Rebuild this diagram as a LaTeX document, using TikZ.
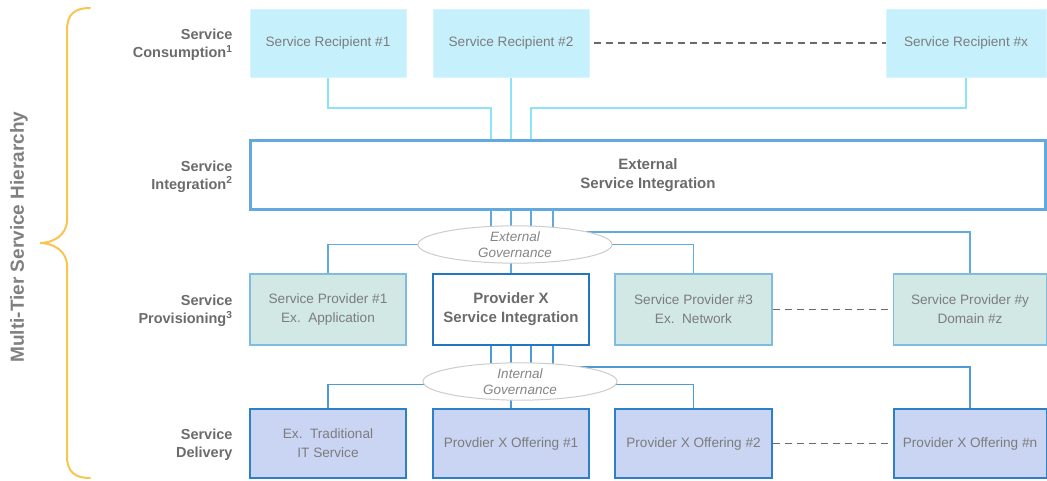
\documentclass[tikz,border=0pt]{standalone}
\usepackage{fontspec}
\setmainfont{Liberation Sans}
\usetikzlibrary{backgrounds,shapes.geometric}
\definecolor{recfill}{HTML}{C6F1FC}
\definecolor{recline}{HTML}{8DE4F8}
\definecolor{extline}{HTML}{62AADD}
\definecolor{provfill}{HTML}{D2E8E5}
\definecolor{provdraw}{HTML}{80BCE0}
\definecolor{pxdraw}{HTML}{2277C0}
\definecolor{delfill}{HTML}{CAD5F3}
\definecolor{deldraw}{HTML}{2D80C8}
\definecolor{intline}{HTML}{4D9AD6}
\definecolor{boxtext}{HTML}{7C7C7C}
\definecolor{labtext}{HTML}{6B6B6B}
\definecolor{bracecol}{HTML}{F9C44F}
\definecolor{dashcol}{HTML}{6A6A6A}
\tikzset{
  box/.style={rectangle, inner sep=0pt, align=center, text=boxtext, font=\fontsize{13.6}{19}\selectfont},
  recbox/.style={box, fill=recfill, draw=recfill!70!white, line width=0.6pt, minimum height=68pt},
  provbox/.style={box, fill=provfill, draw=provdraw, line width=1.5pt, minimum height=71pt},
  pxbox/.style={box, fill=white, draw=pxdraw, line width=2.5pt, minimum height=71pt, text=labtext, font=\fontsize{15}{19}\selectfont\bfseries},
  delbox/.style={box, fill=delfill, draw=deldraw, line width=2pt, minimum height=69pt},
  extbox/.style={box, fill=white, draw=extline, line width=3pt, text=labtext, font=\fontsize{15}{19}\selectfont\bfseries},
  gov/.style={ellipse, fill=white, draw=black!20, line width=1pt, inner sep=0pt, align=center, text=black!48, font=\fontsize{13.5}{16.5}\selectfont\itshape},
  lab/.style={align=right, anchor=east, text=labtext, font=\fontsize{14.5}{18}\selectfont\bfseries},
  recconn/.style={draw=recline, line width=1.3pt},
  extconn/.style={draw=extline, line width=1.3pt},
  intconn/.style={draw=intline, line width=1.3pt},
  dashconn/.style={draw=dashcol, line width=1.8pt, dash pattern=on 7pt off 5pt},
}
\begin{document}
\begin{tikzpicture}[x=1pt, y=-1pt]
\useasboundingbox (0,0) rectangle (1047,481);
% recipients
\node[recbox, minimum width=156pt] (r1) at (328,43) {Service Recipient \#1};
\node[recbox, minimum width=156pt] (r2) at (511,43) {Service Recipient \#2};
\node[recbox, minimum width=160pt] (rx) at (966,43) {Service Recipient \#x};
% external integration
\node[extbox, minimum width=795pt, minimum height=69pt] (ext) at (648,175.5) {External\\Service Integration};
% providers
\node[provbox, minimum width=156pt] (p1) at (328,309.5) {Service Provider \#1\\Ex.\ \ Application};
\node[pxbox, minimum width=156pt] (px) at (511,309.5) {Provider X\\Service Integration};
\node[provbox, minimum width=157pt] (p3) at (693.5,309.5) {Service Provider \#3\\Ex.\ \ Network};
\node[provbox, minimum width=153pt] (py) at (970,309.5) {Service Provider \#y\\Domain \#z};
% delivery
\node[delbox, minimum width=156pt] (d1) at (328,443.5) {Ex.\ \ Traditional\\IT Service};
\node[delbox, minimum width=156pt] (dx) at (511,443.5) {Provdier X Offering \#1};
\node[delbox, minimum width=157pt] (d2) at (693.5,443.5) {Provider X Offering \#2};
\node[delbox, minimum width=153pt] (dn) at (970,443.5) {Provider X Offering \#n};
% governance ellipses
\node[gov, minimum width=194pt, minimum height=35pt] (eg) at (515,244.5) {External\\Governance};
\node[gov, minimum width=194pt, minimum height=37pt] (ig) at (520,381.5) {Internal\\Governance};
% tap coordinates
\coordinate (ta) at (491,0);
\coordinate (tb) at (511,0);
\coordinate (tc) at (531,0);
\coordinate (td) at (553,0);
\coordinate (hup) at (0,108);
\coordinate (hext) at (0,232);
\coordinate (hint) at (0,367);
\begin{scope}[on background layer]
  % recipients to external
  \draw[recconn] (r1.south) |- (hup -| ta) -- (ext.north -| ta);
  \draw[recconn] (r2.south) -- (ext.north -| tb);
  \draw[recconn] (rx.south) |- (hup -| tc) -- (ext.north -| tc);
  % external to governance
  \draw[extconn] (ext.south -| ta) -- (eg.center -| ta);
  \draw[extconn] (ext.south -| tb) -- (eg.center -| tb);
  \draw[extconn] (ext.south -| tc) -- (eg.center -| tc);
  \draw[extconn] (ext.south -| td) |- (hext -| py.north) -- (py.north);
  \draw[extconn] (eg.center) -| (p1.north);
  \draw[extconn] (eg.center) -| (p3.north);
  \draw[extconn] (eg.center -| tb) -- (px.north -| tb);
  % provider X to internal governance
  \draw[intconn] (px.south -| ta) -- (ig.center -| ta);
  \draw[intconn] (px.south -| tb) -- (ig.center -| tb);
  \draw[intconn] (px.south -| tc) -- (ig.center -| tc);
  \draw[intconn] (px.south -| td) |- (hint -| dn.north) -- (dn.north);
  \draw[intconn] ([yshift=-3pt]ig.center) -| (d1.north);
  \draw[intconn] ([yshift=-3pt]ig.center) -| (d2.north);
  \draw[intconn] (ig.center -| tb) -- (dx.north -| tb);
\end{scope}
% dashed links
\draw[dashconn] ([xshift=5pt]r2.east) -- (rx.west);
\draw[dashconn] (p3.east) -- (py.west);
\draw[dashconn] (d2.east) -- (dn.west);
% left labels
\node[lab] (lc) at (236,44.5) {Service\\Consumption\textsuperscript{1}};
\node[lab] (li) at (236,176.5) {Service\\Integration\textsuperscript{2}};
\node[lab] (lp) at (236,311) {Service\\Provisioning\textsuperscript{3}};
\node[lab] (ld) at (236,444.5) {Service\\Delivery};
% brace
\draw[bracecol, line width=2pt, line cap=round]
  (90,8) .. controls (75,8) and (67,14) .. (67,30) -- (67,220)
  .. controls (67,236) and (52,243) .. (40,243)
  .. controls (52,243) and (67,250) .. (67,266) -- (67,456)
  .. controls (67,472) and (75,478) .. (90,478);
\node[rotate=90, text=black!50, font=\fontsize{19}{22}\selectfont\bfseries] (title) at (19,237) {Multi-Tier Service Hierarchy};
\end{tikzpicture}
\end{document}
